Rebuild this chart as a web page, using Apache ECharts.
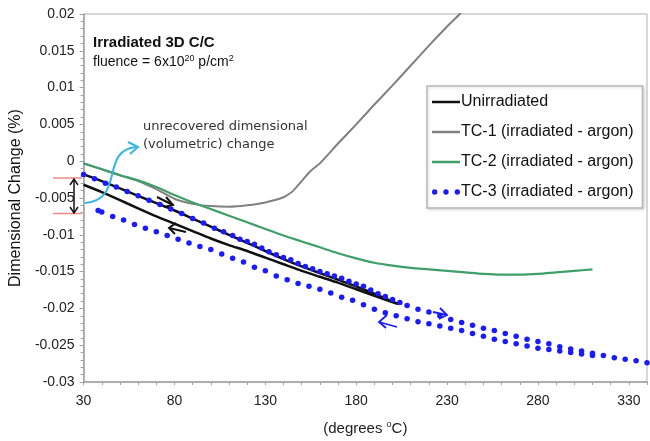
<!DOCTYPE html>
<html><head><meta charset="utf-8">
<script src="https://cdn.jsdelivr.net/npm/echarts@6/dist/echarts.min.js"></script>
<style>html,body{margin:0;padding:0;background:#fff}#c{width:650px;height:441px}</style>
</head><body><div id="c"></div>
<script>
// ---- data ----
const xTicks = [30, 80, 130, 180, 230, 280, 330];
const yTicks = [-0.03, -0.025, -0.02, -0.015, -0.01, -0.005, 0, 0.005, 0.01, 0.015, 0.02];

// Unirradiated: heating (upper) then cooling (lower) loop
const unirrX = [30, 40, 50, 60, 70, 80, 90, 100, 110, 120, 130, 140, 150, 160, 170, 180, 190, 203,
                190, 180, 170, 160, 150, 140, 130, 120, 110, 100, 90, 80, 70, 60, 50, 40, 30];
const unirrY = [-0.0018, -0.0027, -0.0037, -0.0047, -0.0057, -0.0067, -0.0078, -0.0089, -0.0100, -0.0111, -0.0122, -0.0133, -0.0143, -0.0152, -0.0161, -0.0170, -0.0180, -0.0194,
                -0.0183, -0.0174, -0.0165, -0.0157, -0.0149, -0.0140, -0.0131, -0.0122, -0.0114, -0.0105, -0.0095, -0.0085, -0.0075, -0.0064, -0.0053, -0.0042, -0.0032];

const tc1X = [30, 40, 50, 60, 70, 80, 90, 100, 110, 120, 130, 140, 145, 150, 155, 160, 170, 180, 190, 200, 210, 220, 230, 237, 241];
const tc1Y = [-0.0003, -0.0011, -0.0019, -0.0027, -0.0038, -0.0051, -0.0058, -0.0061, -0.0062, -0.0060, -0.0056, -0.0049, -0.0041, -0.0027, -0.0013, -0.0003, 0.0024, 0.0050, 0.0077, 0.0103, 0.0130, 0.0157, 0.0183, 0.0200, 0.0211];

const tc2X = [30, 40, 50, 60, 70, 80, 90, 100, 110, 120, 130, 140, 150, 160, 170, 180, 190, 200, 210, 220, 230, 240, 250, 260, 270, 280, 290, 300, 310];
const tc2Y = [-0.0003, -0.0011, -0.0019, -0.0026, -0.0035, -0.0046, -0.0056, -0.0065, -0.0074, -0.0083, -0.0092, -0.0101, -0.0109, -0.0117, -0.0125, -0.0132, -0.0138, -0.0142, -0.0145, -0.0147, -0.0149, -0.0151, -0.0153, -0.0154, -0.0154, -0.0153, -0.0151, -0.0149, -0.0147];

const tc3HeatX = [30, 36, 42, 48, 54, 60, 66, 72, 78, 84, 90, 96, 102, 107, 112, 116, 120, 124, 128, 132, 136, 140, 144, 148, 152, 156, 160, 164, 168, 172, 176, 180, 184, 188, 192, 196, 200, 204, 208, 214, 220, 226, 232, 238, 244, 250, 256, 262, 268, 274, 280, 286, 292, 298, 304, 310, 316, 322, 328, 334, 340];
const tc3HeatY = [-0.0018, -0.0024, -0.0030, -0.0035, -0.0041, -0.0047, -0.0053, -0.0059, -0.0065, -0.0071, -0.0078, -0.0084, -0.0091, -0.0096, -0.0101, -0.0106, -0.0109, -0.0113, -0.0118, -0.0123, -0.0127, -0.0131, -0.0134, -0.0139, -0.0143, -0.0146, -0.0150, -0.0153, -0.0156, -0.0159, -0.0163, -0.0167, -0.0170, -0.0175, -0.0180, -0.0184, -0.0188, -0.0192, -0.0196, -0.0201, -0.0205, -0.0210, -0.0215, -0.0219, -0.0223, -0.0227, -0.0230, -0.0234, -0.0238, -0.0242, -0.0245, -0.0248, -0.0252, -0.0255, -0.0258, -0.0261, -0.0264, -0.0267, -0.0269, -0.0271, -0.0274];
const tc3CoolX = [310, 304, 298, 292, 286, 280, 274, 268, 262, 256, 250, 244, 238, 232, 226, 220, 214, 208, 202, 196, 190, 184, 178, 172, 166, 160, 154, 148, 142, 136, 130, 124, 118, 112, 106, 100, 94, 88, 82, 76, 70, 64, 58, 52, 46, 40, 38];
const tc3CoolY = [-0.0264, -0.0262, -0.0260, -0.0258, -0.0256, -0.0254, -0.0251, -0.0248, -0.0245, -0.0242, -0.0238, -0.0234, -0.0230, -0.0227, -0.0224, -0.0221, -0.0218, -0.0214, -0.0210, -0.0206, -0.0201, -0.0195, -0.0189, -0.0185, -0.0179, -0.0174, -0.0170, -0.0166, -0.0161, -0.0156, -0.0149, -0.0144, -0.0137, -0.0132, -0.0126, -0.0120, -0.0116, -0.0111, -0.0106, -0.0101, -0.0096, -0.0091, -0.0086, -0.0080, -0.0075, -0.0069, -0.0067];

const names = ['Unirradiated', 'TC-1 (irradiated - argon)', 'TC-2 (irradiated - argon)', 'TC-3 (irradiated - argon)'];

const zip = (xs, ys) => xs.map((x, i) => [x, ys[i]]);

const chart = echarts.init(document.getElementById('c'), null, {renderer: 'canvas'});
const axisFont = {fontFamily: 'Liberation Sans, Arial, sans-serif', fontSize: 14, color: '#222'};
const lineIcon = 'path://M0,0 L28,0 L28,2.5 L0,2.5 Z';
const dotIcon = 'path://M1,3 a2.5,2.5 0 1,0 5,0 a2.5,2.5 0 1,0 -5,0 M11.5,3 a2.5,2.5 0 1,0 5,0 a2.5,2.5 0 1,0 -5,0 M22,3 a2.5,2.5 0 1,0 5,0 a2.5,2.5 0 1,0 -5,0';

chart.setOption({
  animation: false,
  backgroundColor: '#fff',
  grid: {left: 81, right: -3, top: 14, bottom: 54, show: true, borderColor: '#b0b0b0', borderWidth: 1},
  xAxis: {
    type: 'value', min: 30, max: 340, interval: 50,
    name: '(degrees {sup|o}C)', nameLocation: 'middle', nameGap: 38,
    nameTextStyle: {fontFamily: 'Liberation Sans, Arial, sans-serif', fontSize: 15, color: '#222',
      rich: {sup: {fontSize: 9, verticalAlign: 'top', padding: [0, 0, 8, 0], fontFamily: 'Liberation Sans, Arial, sans-serif', color: '#222'}}},
    axisLine: {show: true, onZero: false, lineStyle: {color: '#a0a0a0', width: 1.5}},
    axisTick: {show: true, length: 3, inside: false, lineStyle: {color: '#a0a0a0'}},
    minorTick: {show: true, splitNumber: 5, length: 3, lineStyle: {color: '#a0a0a0'}},
    splitLine: {show: false},
    axisLabel: Object.assign({margin: 12, formatter: v => (xTicks.indexOf(v) >= 0 ? String(v) : '')}, axisFont)
  },
  yAxis: {
    type: 'value', min: -0.03, max: 0.02, interval: 0.005,
    name: 'Dimensional Change (%)', nameLocation: 'middle', nameGap: 48,
    nameTextStyle: {fontFamily: 'Liberation Sans, Arial, sans-serif', fontSize: 16, color: '#111'},
    axisLine: {show: true, onZero: false, lineStyle: {color: '#a0a0a0', width: 1.5}},
    axisTick: {show: true, length: 4, lineStyle: {color: '#a0a0a0'}},
    minorTick: {show: true, splitNumber: 5, length: 3, lineStyle: {color: '#a0a0a0'}},
    splitLine: {show: false},
    axisLabel: Object.assign({margin: 9, formatter: v => {
      const r = parseFloat(v.toFixed(3));
      return yTicks.indexOf(r) >= 0 ? String(r) : '';
    }}, axisFont)
  },
  legend: {
    orient: 'vertical', left: 427, top: 86,
    itemWidth: 28, itemHeight: 12, itemGap: 14,
    backgroundColor: '#fff', borderColor: '#b8b8b8', borderWidth: 1.5,
    padding: [8, 9, 8, 5],
    shadowColor: 'rgba(0,0,0,0.15)', shadowBlur: 3, shadowOffsetX: 1, shadowOffsetY: 1,
    textStyle: {fontFamily: 'Liberation Sans, Arial, sans-serif', fontSize: 16, color: '#111', padding: [0, 0, 0, -4]},
    data: [
      {name: names[0], icon: lineIcon, itemStyle: {color: '#111'}},
      {name: names[1], icon: lineIcon, itemStyle: {color: '#808080'}},
      {name: names[2], icon: lineIcon, itemStyle: {color: '#3f9f68'}},
      {name: names[3], icon: dotIcon, itemStyle: {color: '#1a1aff'}}
    ]
  },
  series: [
    {name: names[0], type: 'line', data: zip(unirrX, unirrY), showSymbol: false, symbol: 'none', smooth: 0.2,
     lineStyle: {color: '#111', width: 2.5}, itemStyle: {color: '#111'}, z: 3},
    {name: names[1], type: 'line', data: zip(tc1X, tc1Y), showSymbol: false, symbol: 'none', smooth: 0.15, clip: true,
     lineStyle: {color: '#808080', width: 2}, itemStyle: {color: '#808080'}, z: 2},
    {name: names[2], type: 'line', data: zip(tc2X, tc2Y), showSymbol: false, symbol: 'none', smooth: 0.3,
     lineStyle: {color: '#3f9f68', width: 2.2}, itemStyle: {color: '#3f9f68'}, z: 2},
    {name: names[3], type: 'scatter', data: zip(tc3HeatX, tc3HeatY).concat(zip(tc3CoolX, tc3CoolY)),
     symbol: 'circle', symbolSize: 5.5, itemStyle: {color: '#1a1aff', opacity: 1}, z: 4}
  ],
  graphic: [
    {type: 'text', left: 93, top: 35, style: {text: 'Irradiated 3D C/C', font: 'bold 15px "Liberation Sans Narrow", "Liberation Sans", Arial, sans-serif', fill: '#111'}},
    {type: 'text', left: 93, top: 54, style: {
      text: 'fluence = 6x10{s|20} p/cm{s|2}',
      font: '14px "Liberation Sans Narrow", "Liberation Sans", Arial, sans-serif', fill: '#111',
      rich: {s: {fontSize: 9, verticalAlign: 'top', padding: [0, 0, 7, 0], fontFamily: 'Liberation Sans Narrow, Liberation Sans, Arial, sans-serif', fill: '#111'}}
    }},
    {type: 'text', left: 143, top: 120, style: {text: 'unrecovered dimensional', font: '13px "DejaVu Sans", sans-serif', fill: '#333'}},
    {type: 'text', left: 143, top: 138, style: {text: '(volumetric) change', font: '13px "DejaVu Sans", sans-serif', fill: '#333'}},
    // cyan curved arrow
    {type: 'bezierCurve', shape: {x1: 85, y1: 203, x2: 136, y2: 147, cpx1: 125, cpy1: 200, cpx2: 100, cpy2: 150},
     style: {stroke: '#33b5e8', lineWidth: 2, fill: null}, z: 10},
    {type: 'polyline', shape: {points: [[128, 142], [138, 147], [130, 154]]}, style: {stroke: '#33b5e8', lineWidth: 2, fill: null}, z: 10},
    // red markers
    {type: 'line', shape: {x1: 53, y1: 178, x2: 82, y2: 178}, style: {stroke: '#ee8a8a', lineWidth: 1.5}, z: 10},
    {type: 'line', shape: {x1: 53, y1: 213.5, x2: 82, y2: 213.5}, style: {stroke: '#ee8a8a', lineWidth: 1.5}, z: 10},
    // black double arrow
    {type: 'line', shape: {x1: 74, y1: 180, x2: 74, y2: 212}, style: {stroke: '#111', lineWidth: 1.5}, z: 10},
    {type: 'polyline', shape: {points: [[70, 185], [74, 179], [78, 185]]}, style: {stroke: '#111', lineWidth: 1.5, fill: null}, z: 10},
    {type: 'polyline', shape: {points: [[70, 207], [74, 213], [78, 207]]}, style: {stroke: '#111', lineWidth: 1.5, fill: null}, z: 10},
    // black arrows on curves
    {type: 'line', shape: {x1: 157, y1: 197, x2: 173, y2: 205}, style: {stroke: '#111', lineWidth: 2}, z: 10},
    {type: 'polyline', shape: {points: [[166, 197], [173, 205], [164, 207]]}, style: {stroke: '#111', lineWidth: 2, fill: null}, z: 10},
    {type: 'line', shape: {x1: 169, y1: 228, x2: 186, y2: 232}, style: {stroke: '#111', lineWidth: 2}, z: 10},
    {type: 'polyline', shape: {points: [[176, 223], [169, 228], [175, 234]]}, style: {stroke: '#111', lineWidth: 2, fill: null}, z: 10},
    // blue arrows
    {type: 'line', shape: {x1: 433, y1: 312, x2: 447, y2: 315}, style: {stroke: '#1a1aff', lineWidth: 1.8}, z: 10},
    {type: 'polyline', shape: {points: [[440, 308], [447, 315], [439, 319]]}, style: {stroke: '#1a1aff', lineWidth: 1.8, fill: null}, z: 10},
    {type: 'line', shape: {x1: 379, y1: 322, x2: 397, y2: 327}, style: {stroke: '#1a1aff', lineWidth: 1.8}, z: 10},
    {type: 'polyline', shape: {points: [[387, 315], [379, 322], [386, 328]]}, style: {stroke: '#1a1aff', lineWidth: 1.8, fill: null}, z: 10}
  ]
});
</script></body></html>
